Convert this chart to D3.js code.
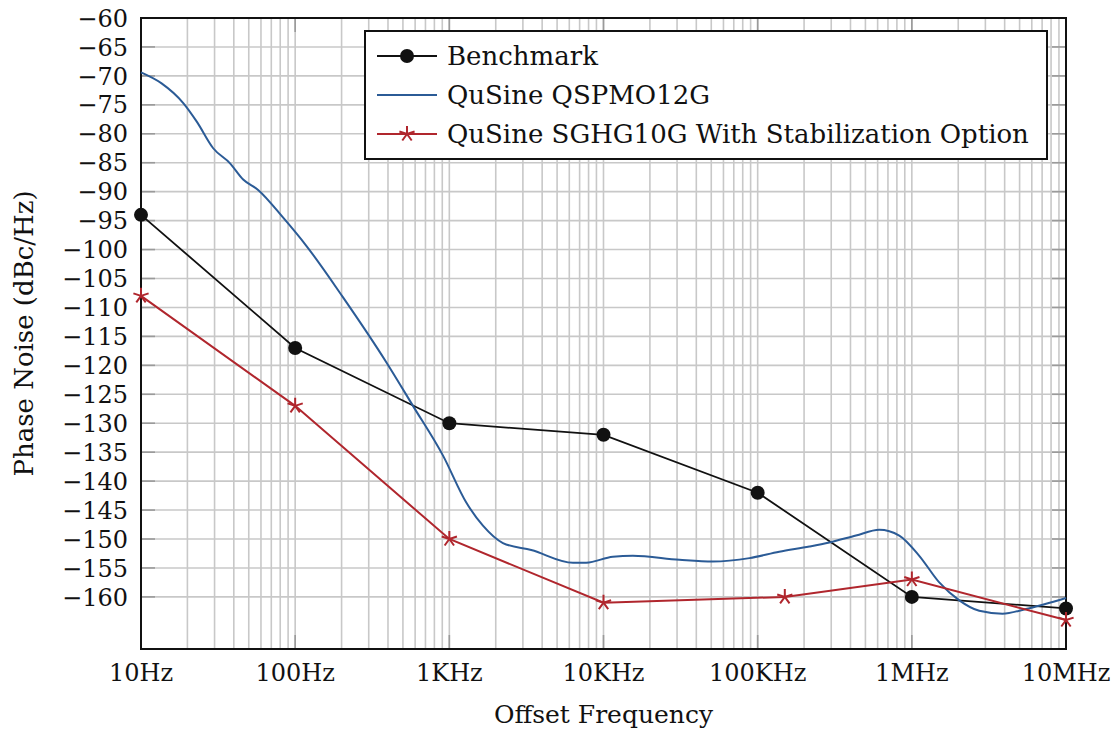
<!DOCTYPE html>
<html>
<head>
<meta charset="utf-8">
<script src="https://cdn.jsdelivr.net/npm/d3@7"></script>
<style>
  body { margin: 0; background: #fff; }
  svg text { font-family: "DejaVu Serif", "Liberation Serif", serif; fill: #111; }
</style>
</head>
<body>
<svg width="1114" height="731"></svg>
<script>
// data
const freqTicks = [10, 100, 1e3, 1e4, 1e5, 1e6, 1e7];
const freqLabels = ["10Hz", "100Hz", "1KHz", "10KHz", "100KHz", "1MHz", "10MHz"];
const noiseTicks = d3.range(-160, -59, 5);

const benchFreq = [10, 100, 1e3, 1e4, 1e5, 1e6, 1e7];
const benchNoise = [-94, -117, -130, -132, -142, -160, -162];

const sghgFreq = [10, 100, 1e3, 1e4, 1.5e5, 1e6, 1e7];
const sghgNoise = [-108, -127, -150, -161, -160, -157, -164];

const qspmoFreq = [10, 13.6, 18.8, 23, 29.4, 37.8, 46, 57.5, 83.6, 118.5, 205, 391, 581, 910,
  1288, 1652, 2227, 3400, 6339, 7730, 11500, 15500, 31100, 51200, 88600, 138000, 216700,
  292000, 434000, 615000, 829000, 1117000, 1506000, 2031000, 2735000, 3878000, 5500000, 1e7];
const qspmoNoise = [-69.4, -71.3, -74.7, -77.9, -82.5, -85.1, -87.9, -89.7, -94.5, -99.4, -108.3,
  -119.5, -127.0, -135.6, -143.7, -147.7, -150.7, -151.9, -154.1, -154.1, -153.05, -152.9,
  -153.6, -153.9, -153.3, -152.2, -151.3, -150.6, -149.4, -148.4, -149.4, -152.9, -157.5,
  -160.6, -162.4, -162.9, -162.1, -160.2];

const seriesNames = ["Benchmark", "QuSine QSPMO12G", "QuSine SGHG10G With Stabilization Option"];
const seriesColors = ["#111111", "#2b5b96", "#b0262d"];

// chart size
const x0 = 141, x1 = 1066, y0 = 18, y1 = 649;

const svg = d3.select("svg");

const x = d3.scaleLog().domain([10, 1e7]).range([x0, x1]);
const y = d3.scaleLinear().domain([-169, -60]).range([y1, y0]);

// grid
const minor = [];
for (let p = 1; p < 7; p++) for (let k = 1; k < 10; k++) minor.push(k * Math.pow(10, p));
minor.push(1e7);

const grid = svg.append("g").attr("stroke", "#c8c8c8").attr("stroke-width", 1.6);
grid.selectAll(".gx").data(minor).join("line")
  .attr("x1", d => x(d)).attr("x2", d => x(d))
  .attr("y1", y0).attr("y2", y1);
grid.selectAll(".gy").data(noiseTicks).join("line")
  .attr("x1", x0).attr("x2", x1)
  .attr("y1", d => y(d)).attr("y2", d => y(d));

// tick marks inside the frame
const ticks = svg.append("g").attr("stroke", "#9a9a9a").attr("stroke-width", 1.6);
ticks.selectAll(".tl").data(noiseTicks).join("line")
  .attr("x1", x0).attr("x2", x0 + 14).attr("y1", d => y(d)).attr("y2", d => y(d));
ticks.selectAll(".tr").data(noiseTicks).join("line")
  .attr("x1", x1 - 14).attr("x2", x1).attr("y1", d => y(d)).attr("y2", d => y(d));
ticks.selectAll(".tb").data(freqTicks).join("line")
  .attr("x1", d => x(d)).attr("x2", d => x(d)).attr("y1", y1 - 14).attr("y2", y1);
ticks.selectAll(".tt").data(freqTicks).join("line")
  .attr("x1", d => x(d)).attr("x2", d => x(d)).attr("y1", y0).attr("y2", y0 + 14);

// frame
svg.append("rect")
  .attr("x", x0).attr("y", y0)
  .attr("width", x1 - x0).attr("height", y1 - y0)
  .attr("fill", "none").attr("stroke", "#111").attr("stroke-width", 2);

// tick labels
svg.append("g").selectAll("text").data(noiseTicks).join("text")
  .attr("x", x0 - 13).attr("y", d => y(d)).attr("dy", "0.36em")
  .attr("text-anchor", "end").attr("font-size", 24)
  .text(d => "\u2212" + Math.abs(d));

svg.append("g").selectAll("text").data(freqTicks).join("text")
  .attr("x", d => x(d)).attr("y", 681)
  .attr("text-anchor", "middle").attr("font-size", 24)
  .text((d, i) => freqLabels[i]);

// axis titles
svg.append("text")
  .attr("x", (x0 + x1) / 2).attr("y", 723)
  .attr("text-anchor", "middle").attr("font-size", 25)
  .text("Offset Frequency");
svg.append("text")
  .attr("transform", `translate(33,${(y0 + y1) / 2}) rotate(-90)`)
  .attr("text-anchor", "middle").attr("font-size", 26)
  .text("Phase Noise (dBc/Hz)");

// lines
const line = d3.line().x(d => x(d[0])).y(d => y(d[1]));
const smooth = d3.line().x(d => x(d[0])).y(d => y(d[1])).curve(d3.curveMonotoneX);

const qspmo = qspmoFreq.map((f, i) => [f, qspmoNoise[i]]);
const bench = benchFreq.map((f, i) => [f, benchNoise[i]]);
const sghg = sghgFreq.map((f, i) => [f, sghgNoise[i]]);

svg.append("path").datum(bench).attr("d", line)
  .attr("fill", "none").attr("stroke", seriesColors[0]).attr("stroke-width", 1.8);
svg.append("path").datum(qspmo).attr("d", smooth)
  .attr("fill", "none").attr("stroke", seriesColors[1]).attr("stroke-width", 2);
svg.append("path").datum(sghg).attr("d", line)
  .attr("fill", "none").attr("stroke", seriesColors[2]).attr("stroke-width", 2);

// markers
function star(r) {
  let p = "";
  for (let k = 0; k < 5; k++) {
    const a = -Math.PI / 2 + k * 2 * Math.PI / 5;
    p += `M0,0L${(r * Math.cos(a)).toFixed(2)},${(r * Math.sin(a)).toFixed(2)}`;
  }
  return p;
}

svg.append("g").selectAll("circle").data(bench).join("circle")
  .attr("cx", d => x(d[0])).attr("cy", d => y(d[1])).attr("r", 7)
  .attr("fill", seriesColors[0]);

svg.append("g").selectAll("path").data(sghg).join("path")
  .attr("transform", d => `translate(${x(d[0])},${y(d[1])})`)
  .attr("d", star(8))
  .attr("fill", "none").attr("stroke", seriesColors[2]).attr("stroke-width", 2);

// legend
const lg = svg.append("g").attr("transform", "translate(365,31)");
lg.append("rect").attr("width", 682).attr("height", 128)
  .attr("fill", "#fff").attr("stroke", "#111").attr("stroke-width", 2);

const rows = lg.selectAll("g").data(seriesNames).join("g")
  .attr("transform", (d, i) => `translate(0,${25 + i * 39})`);
rows.append("line").attr("x1", 12).attr("x2", 72)
  .attr("stroke", (d, i) => seriesColors[i]).attr("stroke-width", 2);
rows.filter((d, i) => i === 0).append("circle").attr("cx", 42).attr("r", 7).attr("fill", seriesColors[0]);
rows.filter((d, i) => i === 2).append("path").attr("transform", "translate(42,0)")
  .attr("d", star(8)).attr("fill", "none").attr("stroke", seriesColors[2]).attr("stroke-width", 2);
rows.append("text").attr("x", 82).attr("dy", "0.36em")
  .attr("font-size", 26)
  .text(d => d);
</script>
</body>
</html>
